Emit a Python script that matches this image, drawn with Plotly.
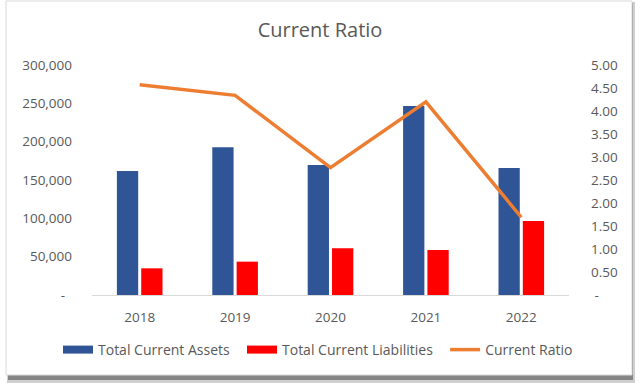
import plotly.graph_objects as go

years = ["2018", "2019", "2020", "2021", "2022"]
total_current_assets = [161700, 192600, 169600, 246500, 165700]
total_current_liabilities = [34800, 43500, 60900, 58700, 96500]
current_ratio = [4.57, 4.34, 2.77, 4.20, 1.69]

left_tickvals = [0, 50000, 100000, 150000, 200000, 250000, 300000]
left_ticktext = ["-\u00a0\u00a0", "50,000", "100,000", "150,000", "200,000", "250,000", "300,000"]
right_tickvals = [0, 0.5, 1.0, 1.5, 2.0, 2.5, 3.0, 3.5, 4.0, 4.5, 5.0]
right_ticktext = ["\u00a0-", "0.50", "1.00", "1.50", "2.00", "2.50", "3.00", "3.50", "4.00", "4.50", "5.00"]

BLUE = "#2F5597"
RED = "#FF0000"
ORANGE = "#ED7D31"
TXT = "#595959"
FONT = "Open Sans"
PAD = "\u00a0" * 2

W, H = 640, 390
L, R, T, B = 92, 71, 65, 95
PW, PH = W - L - R, H - T - B


def px(x):
    return (x - L) / PW


def py(y):
    return (H - B - y) / PH


fig = go.Figure()
fig.add_trace(go.Bar(x=years, y=total_current_assets, name="Total Current Assets",
                     marker=dict(color=BLUE, line=dict(width=0)), showlegend=False))
fig.add_trace(go.Bar(x=years, y=total_current_liabilities, name="Total Current Liabilities",
                     marker=dict(color=RED, line=dict(width=0)), showlegend=False))
fig.add_trace(go.Scatter(x=years, y=current_ratio, name="Current Ratio", mode="lines",
                         line=dict(color=ORANGE, width=3.5), yaxis="y2", showlegend=False))
# legend entries
fig.add_trace(go.Scatter(x=[None], y=[None], mode="lines", name="Total Current Assets" + PAD,
                         line=dict(color=BLUE, width=8)))
fig.add_trace(go.Scatter(x=[None], y=[None], mode="lines", name="Total Current Liabilities" + PAD,
                         line=dict(color=RED, width=8)))
fig.add_trace(go.Scatter(x=[None], y=[None], mode="lines", name="Current Ratio",
                         line=dict(color=ORANGE, width=3.5)))

shapes = [
    dict(type="rect", xref="paper", yref="paper", x0=px(7), x1=px(635), y0=py(2), y1=py(383),
         fillcolor="#cfcfcf", line=dict(width=0), layer="below"),
    dict(type="rect", xref="paper", yref="paper", x0=px(8), x1=px(633), y0=py(3), y1=py(380),
         fillcolor="#858585", line=dict(width=0), layer="below"),
    dict(type="rect", xref="paper", yref="paper", x0=px(6), x1=px(632), y0=py(1), y1=py(375),
         fillcolor="white", line=dict(color="#d9d9d9", width=1), layer="below"),
]

fig.update_layout(
    width=W, height=H,
    margin=dict(l=L, r=R, t=T, b=B, pad=0),
    paper_bgcolor="white", plot_bgcolor="rgba(0,0,0,0)",
    font=dict(family=FONT, size=13.5, color=TXT),
    title=dict(text="Current Ratio", x=(320) / W, xanchor="center", y=1 - 30 / H, yanchor="middle",
               font=dict(family=FONT, size=20, color=TXT)),
    barmode="group", bargap=0.49, bargroupgap=0.125,
    showlegend=True,
    legend=dict(orientation="h", x=px(58), xanchor="left", y=py(350), yanchor="middle",
                font=dict(family=FONT, size=14, color=TXT), bgcolor="rgba(0,0,0,0)",
                itemwidth=30),
    xaxis=dict(showgrid=False, showline=True, linecolor="#d9d9d9", linewidth=1,
               ticks="", ticklabelstandoff=10, zeroline=False,
               tickfont=dict(family=FONT, size=13.5, color=TXT)),
    yaxis=dict(range=[0, 300000], tickvals=left_tickvals, ticktext=left_ticktext,
               showgrid=False, zeroline=False, showline=False, ticks="",
               ticklabelstandoff=19, tickfont=dict(family=FONT, size=13.5, color=TXT)),
    yaxis2=dict(range=[0, 5], tickvals=right_tickvals, ticktext=right_ticktext,
                overlaying="y", side="right", showgrid=False, zeroline=False, showline=False,
                ticks="", ticklabelstandoff=21, tickfont=dict(family=FONT, size=13.5, color=TXT)),
    shapes=shapes,
)

fig.write_html("out.html")
